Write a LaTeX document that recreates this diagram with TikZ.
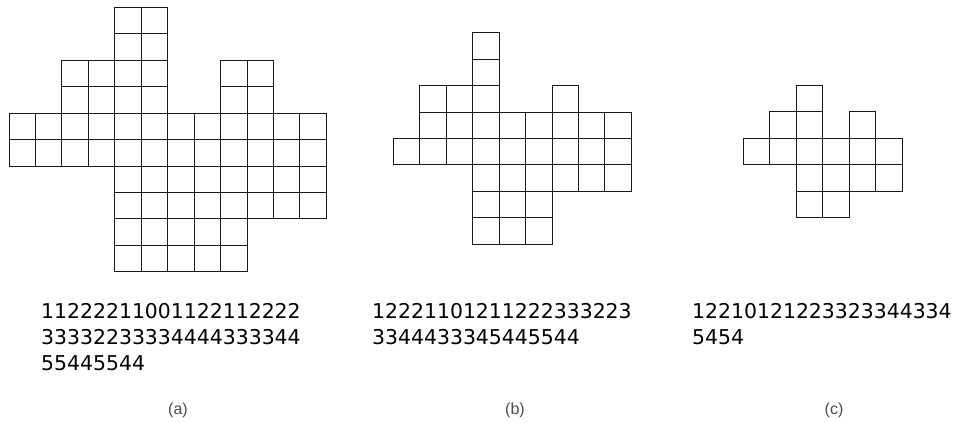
\documentclass[tikz,border=0pt]{standalone}
\usepackage{fontspec}
\newfontfamily\digitfont{DejaVu Sans}
\newfontfamily\labelfont{Liberation Sans}
\begin{document}
\begin{tikzpicture}[x=1pt,y=-1pt,
  cell/.style={draw=black!90,line width=1pt},
  seq/.style={anchor=base west,inner sep=0,font=\digitfont\fontsize{20.4}{24}\selectfont},
  lab/.style={font=\labelfont\fontsize{16}{19}\selectfont,text=black!70,inner sep=0}]
\useasboundingbox (0,0) rectangle (959,423);
\def\s{26.45}
% grid (a)
\foreach \r/\cols in {0/{4,5},1/{4,5},2/{2,3,4,5,8,9},3/{2,3,4,5,8,9},4/{0,...,11},5/{0,...,11},6/{4,...,11},7/{4,...,11},8/{4,...,8},9/{4,...,8}}
  \foreach \c in \cols \draw[cell] ({9+\c*\s},{7.3+\r*\s}) rectangle ++(\s,\s);
% grid (b)
\foreach \r/\cols in {0/{3},1/{3},2/{1,2,3,6},3/{1,...,8},4/{0,...,8},5/{3,...,8},6/{3,4,5},7/{3,4,5}}
  \foreach \c in \cols \draw[cell] ({393.3+\c*\s},{32.7+\r*\s}) rectangle ++(\s,\s);
% grid (c)
\foreach \r/\cols in {0/{2},1/{1,2,4},2/{0,...,5},3/{2,...,5},4/{2,3}}
  \foreach \c in \cols \draw[cell] ({743.3+\c*\s},{85.3+\r*\s}) rectangle ++(\s,\s);
% sequences
\node[seq] (a1) at (41,318) {11222211001122112222};
\node[seq] (a2) at (41,344) {33332233334444333344};
\node[seq] (a3) at (41,370) {55445544};
\node[seq] (b1) at (372,318) {12221101211222333223};
\node[seq] (b2) at (372,344) {3344433345445544};
\node[seq] (c1) at (692,318) {12210121223323344334};
\node[seq] (c2) at (692,344) {5454};
% labels
\node[lab] (la) at (178,410) {(a)};
\node[lab] (lb) at (515,410) {(b)};
\node[lab] (lc) at (834,410) {(c)};
\end{tikzpicture}
\end{document}
